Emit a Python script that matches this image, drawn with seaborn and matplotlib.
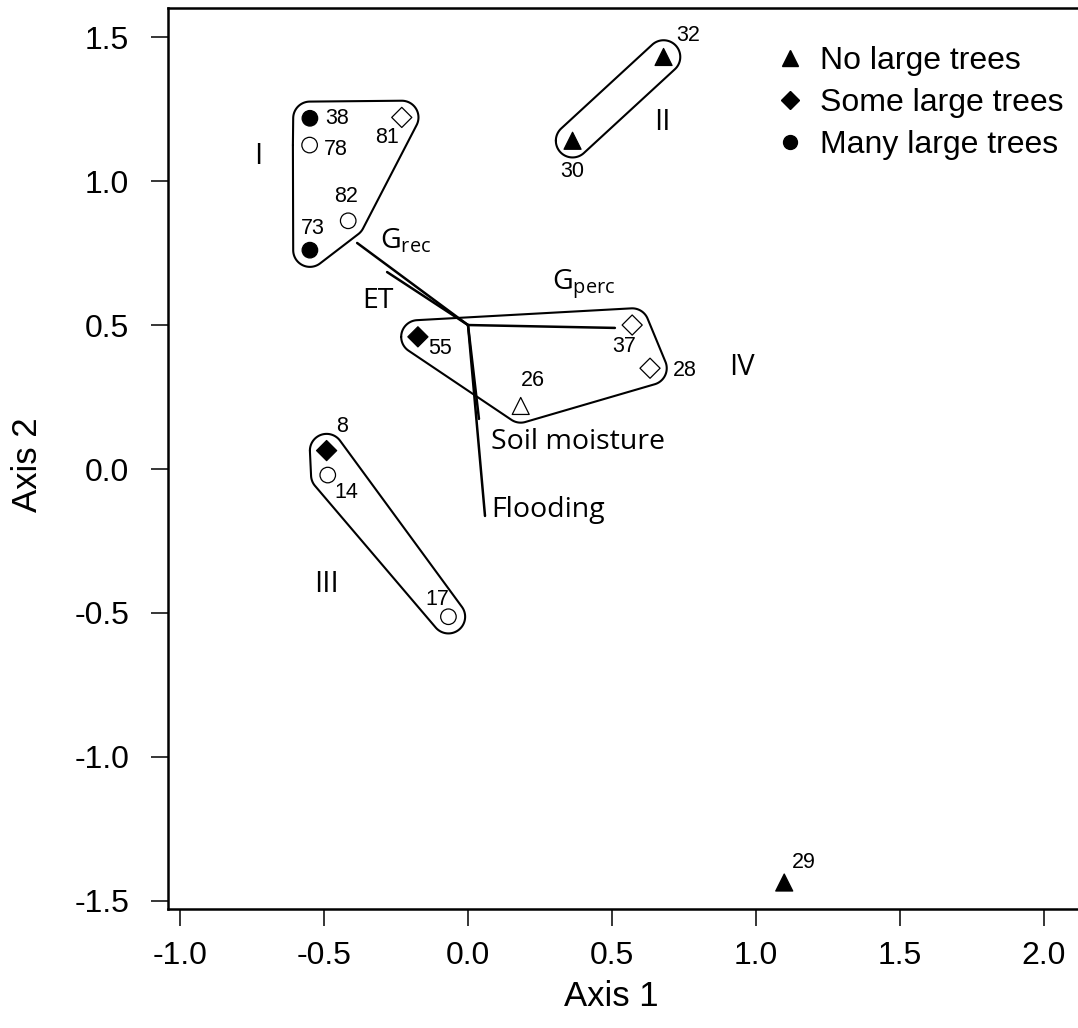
import numpy as np
import pandas as pd
import matplotlib
matplotlib.use("Agg")
import matplotlib.pyplot as plt
import seaborn as sns
from matplotlib.lines import Line2D

# ---- site scores on the two ordination axes ----
site_ids = ["38", "78", "81", "82", "73", "32", "30", "29",
            "55", "37", "28", "26", "8", "14", "17"]
axis1 = [-0.549, -0.550, -0.230, -0.416, -0.549, 0.679, 0.363, 1.098,
         -0.174, 0.570, 0.632, 0.183, -0.491, -0.487, -0.068]
axis2 = [1.218, 1.125, 1.221, 0.862, 0.760, 1.431, 1.140, -1.436,
         0.459, 0.500, 0.350, 0.219, 0.064, -0.021, -0.513]
tree_class = ["Many large trees", "Many large trees", "Some large trees",
              "Many large trees", "Many large trees", "No large trees",
              "No large trees", "No large trees", "Some large trees",
              "Some large trees", "Some large trees", "No large trees",
              "Some large trees", "Many large trees", "Many large trees"]
filled = [True, False, False, False, True, True, True, True,
          True, False, False, False, True, False, False]
cluster = ["I", "I", "I", "I", "I", "II", "II", "",
           "IV", "IV", "IV", "IV", "III", "III", "III"]

# ---- environmental vectors (biplot arrows) ----
vector_names = [r"$\mathrm{G}_{\mathrm{rec}}$", "ET", r"$\mathrm{G}_{\mathrm{perc}}$",
                "Soil moisture", "Flooding"]
vector_origin = (0.0, 0.5)
vector_x = [-0.385, -0.281, 0.510, 0.038, 0.059]
vector_y = [0.785, 0.684, 0.490, 0.174, -0.163]

cluster_names = ["I", "II", "III", "IV"]
class_order = ["No large trees", "Some large trees", "Many large trees"]

df = pd.DataFrame({"site": site_ids, "Axis 1": axis1, "Axis 2": axis2,
                   "trees": tree_class, "filled": filled, "cluster": cluster})

# ---- styling ----
sns.set_theme(style="white", rc={"text.color": "black", "axes.labelcolor": "black",
                                 "xtick.color": "black", "ytick.color": "black",
                                 "axes.edgecolor": "black"})
plt.rcParams["font.family"] = ["Liberation Sans", "DejaVu Sans"]
plt.rcParams["axes.unicode_minus"] = False
plt.rcParams["mathtext.fontset"] = "custom"
plt.rcParams["mathtext.rm"] = "Open Sans"
plt.rcParams["mathtext.it"] = "Open Sans"
HUMANIST = ["Open Sans", "DejaVu Sans"]

W, H = 1078, 1028
fig = plt.figure(figsize=(W / 100, H / 100), dpi=100)
ax = fig.add_axes([168 / W, 1 - 909 / H, 1 - 168 / W, (909 - 8) / H])
ax.set_xlim(-1.0417, 2.118)
ax.set_ylim(-1.528, 1.601)

marker_map = {"No large trees": "^", "Some large trees": "D", "Many large trees": "o"}
size_map = {"No large trees": 150, "Some large trees": 105, "Many large trees": 125}

# rounded outlines around each cluster: convex hull of small discs around members
def rounded_hull(xs, ys, r, n=90):
    t = np.linspace(0, 2 * np.pi, n, endpoint=False)
    pts = np.concatenate([np.column_stack([x + r * np.cos(t), y + r * np.sin(t)])
                          for x, y in zip(xs, ys)])
    pts = sorted(set(map(tuple, np.round(pts, 9))))

    def cross(o, a, b):
        return (a[0] - o[0]) * (b[1] - o[1]) - (a[1] - o[1]) * (b[0] - o[0])

    lower, upper = [], []
    for p in pts:
        while len(lower) >= 2 and cross(lower[-2], lower[-1], p) <= 0:
            lower.pop()
        lower.append(p)
    for p in reversed(pts):
        while len(upper) >= 2 and cross(upper[-2], upper[-1], p) <= 0:
            upper.pop()
        upper.append(p)
    hull = np.array(lower[:-1] + upper[:-1])
    return np.vstack([hull, hull[:1]])

for name in cluster_names:
    sub = df[df["cluster"] == name]
    hx = rounded_hull(sub["Axis 1"].values, sub["Axis 2"].values, 0.058)
    ax.plot(hx[:, 0], hx[:, 1], color="black", lw=1.5, zorder=1, solid_joinstyle="round")

# environmental vectors
for vx, vy in zip(vector_x, vector_y):
    ax.plot([vector_origin[0], vx], [vector_origin[1], vy], color="black", lw=1.8, zorder=2)

# site points
sns.scatterplot(data=df, x="Axis 1", y="Axis 2", style="trees", markers=marker_map,
                size="trees", sizes=size_map, hue="filled",
                palette={True: "black", False: "white"},
                edgecolor="black", linewidth=0.9, legend=False, ax=ax, zorder=3)

# site labels (offsets in points)
label_offsets = {"38": (19.4, 0), "78": (18.7, -2.9), "81": (-10.8, -14.4),
                 "82": (-1.4, 17.3), "73": (2.2, 15.8), "32": (17.6, 15.1),
                 "30": (0, -22.3), "29": (14.4, 14.4), "55": (15.8, -8.6),
                 "37": (-5.8, -15.8), "28": (25.2, -1.4), "26": (8.6, 18.0),
                 "8": (10.8, 17.3), "14": (13.7, -12.2), "17": (-7.9, 12.2)}
for s, x, y in zip(site_ids, axis1, axis2):
    ax.annotate(s, (x, y), xytext=label_offsets[s], textcoords="offset points",
                ha="center", va="center", fontsize=15.5, color="black")

# vector labels (left edge, baseline)
vector_label_pos = [(-0.306, 0.765), (-0.368, 0.559), (0.292, 0.625),
                    (0.080, 0.069), (0.080, -0.167)]
for name, (lx, ly) in zip(vector_names, vector_label_pos):
    ax.text(lx, ly, name, ha="left", va="baseline", fontsize=20.5, family=HUMANIST,
            color="black")

# cluster numerals (centre, baseline)
numeral_pos = {"I": (-0.727, 1.059), "II": (0.674, 1.177),
               "III": (-0.490, -0.427), "IV": (0.951, 0.326)}
for name in cluster_names:
    nx, ny = numeral_pos[name]
    ax.text(nx, ny, name, ha="center", va="baseline", fontsize=21, family=HUMANIST,
            color="black")

# axes, ticks
for side in ["left", "bottom", "top"]:
    ax.spines[side].set_linewidth(1.8)
    ax.spines[side].set_color("black")
ax.spines["right"].set_visible(False)
ax.set_xticks([-1.0, -0.5, 0.0, 0.5, 1.0, 1.5, 2.0])
ax.set_yticks([-1.5, -1.0, -0.5, 0.0, 0.5, 1.0, 1.5])
ax.xaxis.set_major_formatter(matplotlib.ticker.FormatStrFormatter("%.1f"))
ax.yaxis.set_major_formatter(matplotlib.ticker.FormatStrFormatter("%.1f"))
ax.tick_params(axis="both", direction="out", length=12, width=1.1, color="black",
               labelsize=23, labelcolor="black")
ax.tick_params(axis="x", pad=11, bottom=True)
ax.tick_params(axis="y", pad=16, left=True)
ax.set_xlabel("Axis 1", fontsize=25, color="black")
ax.set_ylabel("Axis 2", fontsize=25, color="black")
ax.xaxis.set_label_coords((611 - 168) / 910, (909 - 980) / 901)
ax.yaxis.set_label_coords((44 - 168) / 910, (909 - 465) / 901)

# legend
handles = [Line2D([], [], ls="none", marker="^", color="black", markersize=11),
           Line2D([], [], ls="none", marker="D", color="black", markersize=9),
           Line2D([], [], ls="none", marker="o", color="black", markersize=10)]
leg = ax.legend(handles, class_order, loc="upper left", frameon=False, fontsize=23,
                handlelength=0.8, handletextpad=0.55, labelspacing=0.38, borderpad=0,
                borderaxespad=0, bbox_to_anchor=(777 / W, 1 - 46 / H),
                bbox_transform=fig.transFigure)
for txt in leg.get_texts():
    txt.set_color("black")

fig.savefig("out.png", dpi=100)
